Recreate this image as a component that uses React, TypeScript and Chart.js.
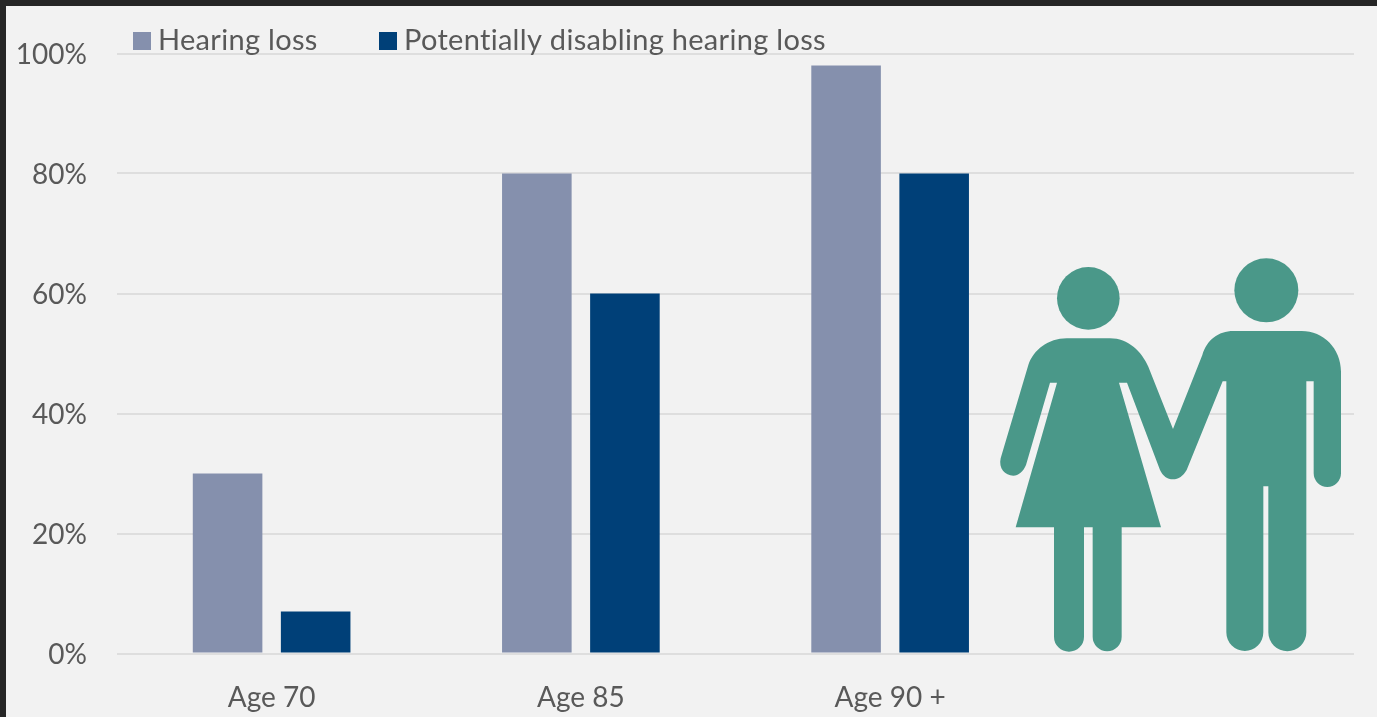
import React, { useEffect, useRef } from "react";
import { Chart, registerables } from "chart.js";

Chart.register(...registerables);

const categories = ["Age 70", "Age 85", "Age 90 +", ""];
const hearingLoss = [30, 80, 98, null];
const disablingLoss = [7, 60, 80, null];
const seriesNames = ["Hearing loss", "Potentially disabling hearing loss"];
const seriesColors = ["#8590ad", "#004078"];
const yTicks = [0, 20, 40, 60, 80, 100];

const FONT = "Lato, Carlito, Calibri, sans-serif";
const TEXT = "#595959";
const FONT_SIZE = 28;
const LEGEND_FONT_SIZE = 29;

const bodyPath =
  "M260,295 L390,295 C445,295 485,335 505,380 L579,567 L667,345 C680,300 715,273 760,273 L965,273 C1030,273 1083,325 1083,395 " +
  "L1083,700 A41,41 0 0 1 1001,700 L1001,424 L979,424 L979,1177 A57,57 0 0 1 865,1177 L865,739 L850,739 L850,1177 A55.5,56 0 0 1 739,1177 " +
  "L739,424 L728,424 L620,690 C610,708 595,718 579,718 C562,718 548,708 540,690 L441,428 L417,428 L543,862 L425,862 L425,1190 " +
  "A43.5,43.5 0 0 1 338,1190 L338,862 L312,862 L312,1190 A45,45 0 0 1 222,1190 L222,862 L107,862 L231,428 L210,428 L138,675 " +
  "C130,695 115,707 100,707 C75,707 55,685 62,655 L145,375 C160,330 205,295 260,295 Z";

const figuresPlugin = {
  id: "figures",
  afterDatasetsDraw(chart: any) {
    const ctx = chart.ctx;
    ctx.save();
    ctx.translate(980, 240);
    ctx.scale(1 / 3, 1 / 3);
    ctx.fillStyle = "#4a9889";
    ctx.fill(new Path2D(bodyPath));
    ctx.beginPath();
    ctx.arc(325, 175, 94, 0, Math.PI * 2);
    ctx.fill();
    ctx.beginPath();
    ctx.arc(859, 151, 96, 0, Math.PI * 2);
    ctx.fill();
    ctx.restore();
  },
};

const legendPlugin = {
  id: "topLegend",
  afterDraw(chart: any) {
    const ctx = chart.ctx;
    const spots = [133, 379];
    ctx.save();
    ctx.font = `${LEGEND_FONT_SIZE}px ${FONT}`;
    ctx.letterSpacing = "0.3px";
    ctx.textBaseline = "middle";
    ctx.textAlign = "left";
    chart.data.datasets.forEach((ds: any, i: number) => {
      ctx.fillStyle = ds.backgroundColor;
      ctx.fillRect(spots[i], 32, 18, 18);
      ctx.fillStyle = TEXT;
      ctx.fillText(ds.label, spots[i] + 25, 41);
    });
    ctx.restore();
  },
};

export default function App() {
  const ref = useRef<HTMLCanvasElement>(null);
  useEffect(() => {
    const chart = new Chart(ref.current as HTMLCanvasElement, {
      type: "bar",
      data: {
        labels: categories,
        datasets: [
          { label: seriesNames[0], data: hearingLoss, backgroundColor: seriesColors[0] },
          { label: seriesNames[1], data: disablingLoss, backgroundColor: seriesColors[1] },
        ],
      },
      plugins: [figuresPlugin, legendPlugin],
      options: {
        responsive: false,
        animation: false,
        layout: { padding: { left: 0, right: 23, top: 53.5, bottom: 0 } },
        datasets: { bar: { categoryPercentage: 0.5696, barPercentage: 0.79 } },
        plugins: { legend: { display: false }, tooltip: { enabled: false } },
        scales: {
          x: {
            grid: { display: false },
            border: { display: false },
            ticks: {
              color: TEXT,
              font: { family: FONT, size: FONT_SIZE },
              padding: 20,
              maxRotation: 0,
              autoSkip: false,
            },
            afterFit: (s: any) => {
              s.height = 63.5;
            },
          },
          y: {
            min: 0,
            max: 100,
            afterBuildTicks: (s: any) => {
              s.ticks = yTicks.map((value) => ({ value }));
            },
            grid: { color: "#dedede", lineWidth: 2, drawTicks: false },
            border: { display: false },
            ticks: {
              color: TEXT,
              font: { family: FONT, size: FONT_SIZE },
              padding: 30,
              labelOffset: 1,
              callback: (v: any) => `${v}%`,
            },
            afterFit: (s: any) => {
              s.width = 117;
            },
          },
        },
      },
    } as any);
    return () => chart.destroy();
  }, []);

  return (
    <div style={{ position: "fixed", inset: 0, background: "#262626", overflow: "hidden" }}>
      <div style={{ position: "absolute", left: 6, top: 6, right: 0, bottom: 0, background: "#f2f2f2" }} />
      <canvas
        ref={ref}
        width={1377}
        height={717}
        style={{ position: "absolute", left: 0, top: 0, width: 1377, height: 717 }}
      />
    </div>
  );
}
